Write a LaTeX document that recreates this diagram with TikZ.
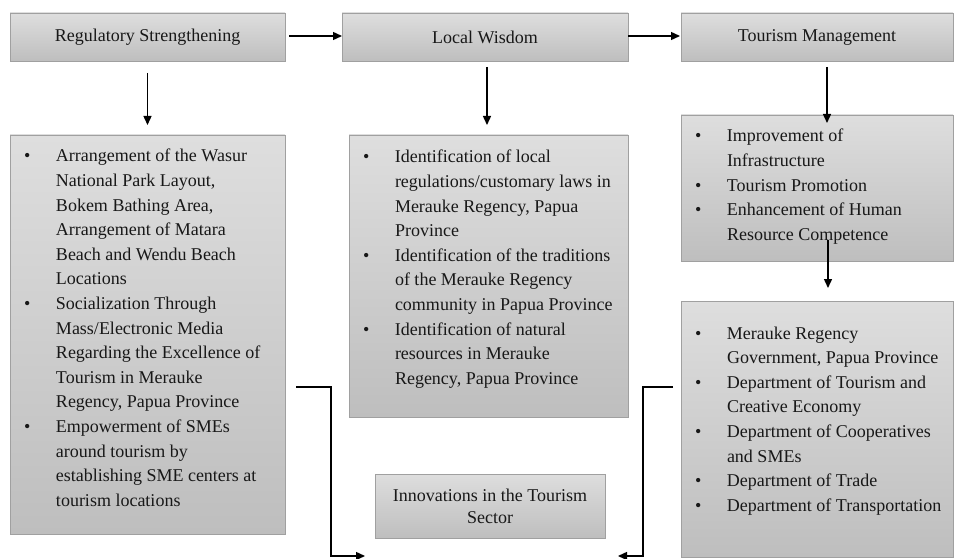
\documentclass[tikz,border=0pt]{standalone}
\usepackage{fontspec}
\setmainfont{Liberation Serif}
\usetikzlibrary{arrows.meta}
\definecolor{boxtop}{RGB}{222,222,222}
\definecolor{boxbot}{RGB}{190,190,190}
\definecolor{boxline}{RGB}{160,160,160}
\definecolor{ink}{RGB}{24,24,24}
\newcommand\bl{\makebox[32pt][l]{\textbullet}}
\begin{document}
\begin{tikzpicture}[x=1pt,y=-1pt,
  gbox/.style={draw=boxline, line width=0.8pt, top color=boxtop, bottom color=boxbot,
    anchor=north west, inner sep=0pt, outer sep=0pt, text=ink, align=center,
    font=\fontsize{18}{22}\selectfont},
  ltext/.style={text=ink, anchor=base west, inner sep=0pt, outer sep=0pt,
    font=\fontsize{18}{24.6}\selectfont},
  arr/.style={line width=1.4pt, draw=black, -{Triangle[length=9pt,width=8pt]}}]
\useasboundingbox (0,0) rectangle (954,559);
% top row
\node[gbox, minimum width=275pt, minimum height=48pt] (reg) at (10,13) {Regulatory Strengthening};
\node[gbox, minimum width=286pt, minimum height=48pt] (lw) at (342,13) {Local Wisdom};
\node[gbox, minimum width=272pt, minimum height=48pt] (tm) at (681,13) {Tourism Management};
% list boxes
\node[gbox, minimum width=275pt, minimum height=399pt] (regl) at (10,135) {};
\node[gbox, minimum width=279pt, minimum height=282pt] (lwl) at (349,135) {};
\node[gbox, minimum width=272pt, minimum height=146pt] (tml) at (681,115) {};
\node[gbox, minimum width=272pt, minimum height=256pt] (dep) at (681,301) {};
\node[gbox, minimum width=230pt, minimum height=64pt] (inn) at (375,474) {Innovations in the Tourism\\Sector};
% list texts
\node[ltext] (reglt) at (24,162) {\begin{tabular}[t]{@{}l@{}l@{}}
\bl & Arrangement of the Wasur\\
 & National Park Layout,\\
 & Bokem Bathing Area,\\
 & Arrangement of Matara\\
 & Beach and Wendu Beach\\
 & Locations\\
\bl & Socialization Through\\
 & Mass/Electronic Media\\
 & Regarding the Excellence of\\
 & Tourism in Merauke\\
 & Regency, Papua Province\\
\bl & Empowerment of SMEs\\
 & around tourism by\\
 & establishing SME centers at\\
 & tourism locations
\end{tabular}};
\node[ltext] (lwlt) at (363,163) {\begin{tabular}[t]{@{}l@{}l@{}}
\bl & Identification of local\\
 & regulations/customary laws in\\
 & Merauke Regency, Papua\\
 & Province\\
\bl & Identification of the traditions\\
 & of the Merauke Regency\\
 & community in Papua Province\\
\bl & Identification of natural\\
 & resources in Merauke\\
 & Regency, Papua Province
\end{tabular}};
\node[ltext] (tmlt) at (695,142) {\begin{tabular}[t]{@{}l@{}l@{}}
\bl & Improvement of\\
 & Infrastructure\\
\bl & Tourism Promotion\\
\bl & Enhancement of Human\\
 & Resource Competence
\end{tabular}};
\node[ltext] (dept) at (695,339) {\begin{tabular}[t]{@{}l@{}l@{}}
\bl & Merauke Regency\\
 & Government, Papua Province\\
\bl & Department of Tourism and\\
 & Creative Economy\\
\bl & Department of Cooperatives\\
 & and SMEs\\
\bl & Department of Trade\\
\bl & Department of Transportation
\end{tabular}};
% horizontal arrows
\draw[arr] ([xshift=4pt,yshift=1pt]reg.east) -- ([yshift=1pt]lw.west);
\draw[arr] ([yshift=1pt]lw.east) -- ([xshift=-1pt,yshift=1pt]tm.west);
% down arrows
\draw[arr] ([yshift=-12pt]reg.south) -- ([yshift=10pt]reg.south |- regl.north);
\draw[arr] ([xshift=2pt,yshift=-6pt]lw.south) -- ([xshift=2pt,yshift=10pt]lw.south |- lwl.north);
\draw[arr] ([xshift=10pt,yshift=-6pt]tm.south) -- ([xshift=10pt,yshift=-8pt]tm.south |- tml.north);
\draw[arr] ([xshift=11pt,yshift=21pt]tml.south) -- ([xshift=11pt,yshift=13pt]tml.south |- dep.north);
% elbow connectors toward innovations
\coordinate (la) at (296,387);
\coordinate (lb) at (331,556);
\coordinate (lc) at (365,556);
\coordinate (ra) at (673,387);
\coordinate (rb) at (643,556);
\coordinate (rc) at (618,556);
\draw[arr] (la) -| (lb) -- (lc);
\draw[arr] (ra) -| (rb) -- (rc);
\end{tikzpicture}
\end{document}
